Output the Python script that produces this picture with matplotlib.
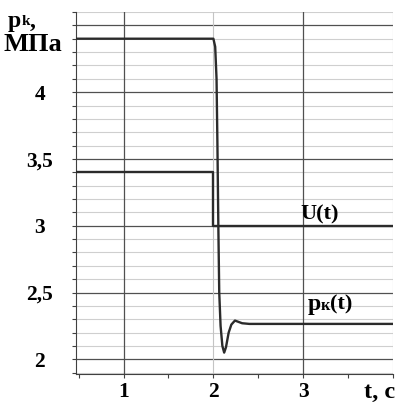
import numpy as np
import matplotlib
matplotlib.use("Agg")
import matplotlib.pyplot as plt

# p_k(t), MPa
t_p = [0.47, 2.00, 2.02, 2.035, 2.045, 2.055, 2.065, 2.08, 2.10, 2.12, 2.14,
       2.17, 2.20, 2.24, 2.28, 2.32, 2.40, 4.00]
p_k = [4.40, 4.40, 4.34, 4.10, 3.60, 3.00, 2.50, 2.25, 2.10, 2.05, 2.09,
       2.20, 2.26, 2.29, 2.28, 2.27, 2.265, 2.265]

# U(t) step
t_u = [0.47, 2.00, 2.00, 4.00]
u = [3.40, 3.40, 3.00, 3.00]

y_ticks = [2, 2.5, 3, 3.5, 4]
y_labels = ["2", "2,5", "3", "3,5", "4"]
x_ticks = [1, 2, 3]
x_labels = ["1", "2", "3"]

W, H = 409, 403
fig = plt.figure(figsize=(W / 100, H / 100), dpi=100)
ax = fig.add_axes([76 / W, 1 - 374 / H, (393 - 76) / W, (374 - 12) / H])

ax.set_xlim(0.47, 4.0)
ax.set_ylim(1.89, 4.6)

serif = "Liberation Serif"
line_col = "#2b2b2b"

# grid
for v in np.arange(1.9, 4.61, 0.1):
    if abs(v * 2 - round(v * 2)) < 1e-6:
        ax.axhline(v, color="#505050", lw=0.9, zorder=1)
    else:
        ax.axhline(v, color="#cfcfcf", lw=0.8, zorder=1)
for v in [1, 3]:
    ax.axvline(v, color="#505050", lw=0.9, zorder=1)
for v in [2, 4]:
    ax.axvline(v, color="#c4c4c4", lw=0.8, zorder=1)

ax.plot(t_u, u, color=line_col, lw=1.7, zorder=3)
ax.plot(t_p, p_k, color=line_col, lw=1.7, zorder=3)

ax.spines["top"].set_visible(False)
ax.spines["right"].set_visible(False)
ax.spines["left"].set_color("#404040")
ax.spines["bottom"].set_color("#404040")

ax.set_yticks(y_ticks)
ax.set_yticks(np.arange(1.9, 4.61, 0.1), minor=True)
ax.set_yticklabels(y_labels)
ax.set_xticks(x_ticks)
ax.set_xticks([0.5, 1.5, 2.5, 3.5, 4.0], minor=True)
ax.set_xticklabels(x_labels)
ax.tick_params(axis="both", which="both", length=3, color="#404040", width=0.8)
ax.tick_params(axis="y", which="major", pad=23)
ax.tick_params(axis="x", which="major", pad=3)
for lab in ax.get_yticklabels():
    lab.set_horizontalalignment("center")
for lab in ax.get_xticklabels() + ax.get_yticklabels():
    lab.set_fontfamily(serif)
    lab.set_fontweight("bold")
    lab.set_fontsize(15.5)

# axis names
fig.text(8 / W, 1 - 27 / H, "p", family=serif, weight="bold", size=17)
fig.text(22 / W, 1 - 25 / H, "k", family=serif, weight="bold", size=11)
fig.text(30 / W, 1 - 27 / H, ",", family=serif, weight="bold", size=17)
fig.text(4 / W, 1 - 51 / H, "МПа", family=serif, weight="bold", size=19)
fig.text(364 / W, 1 - 398 / H, "t, c", family=serif, weight="bold", size=17.5)

# series labels
ax.text(2.97, 3.05, "U(t)", family=serif, weight="bold", size=16, zorder=4)
ax.text(3.05, 2.37, "p", family=serif, weight="bold", size=17, zorder=4)
ax.text(3.19, 2.37, "к", family=serif, weight="bold", size=11.5, zorder=4)
ax.text(3.30, 2.37, "(t)", family=serif, weight="bold", size=16, zorder=4)

fig.savefig("out.png", dpi=100)
